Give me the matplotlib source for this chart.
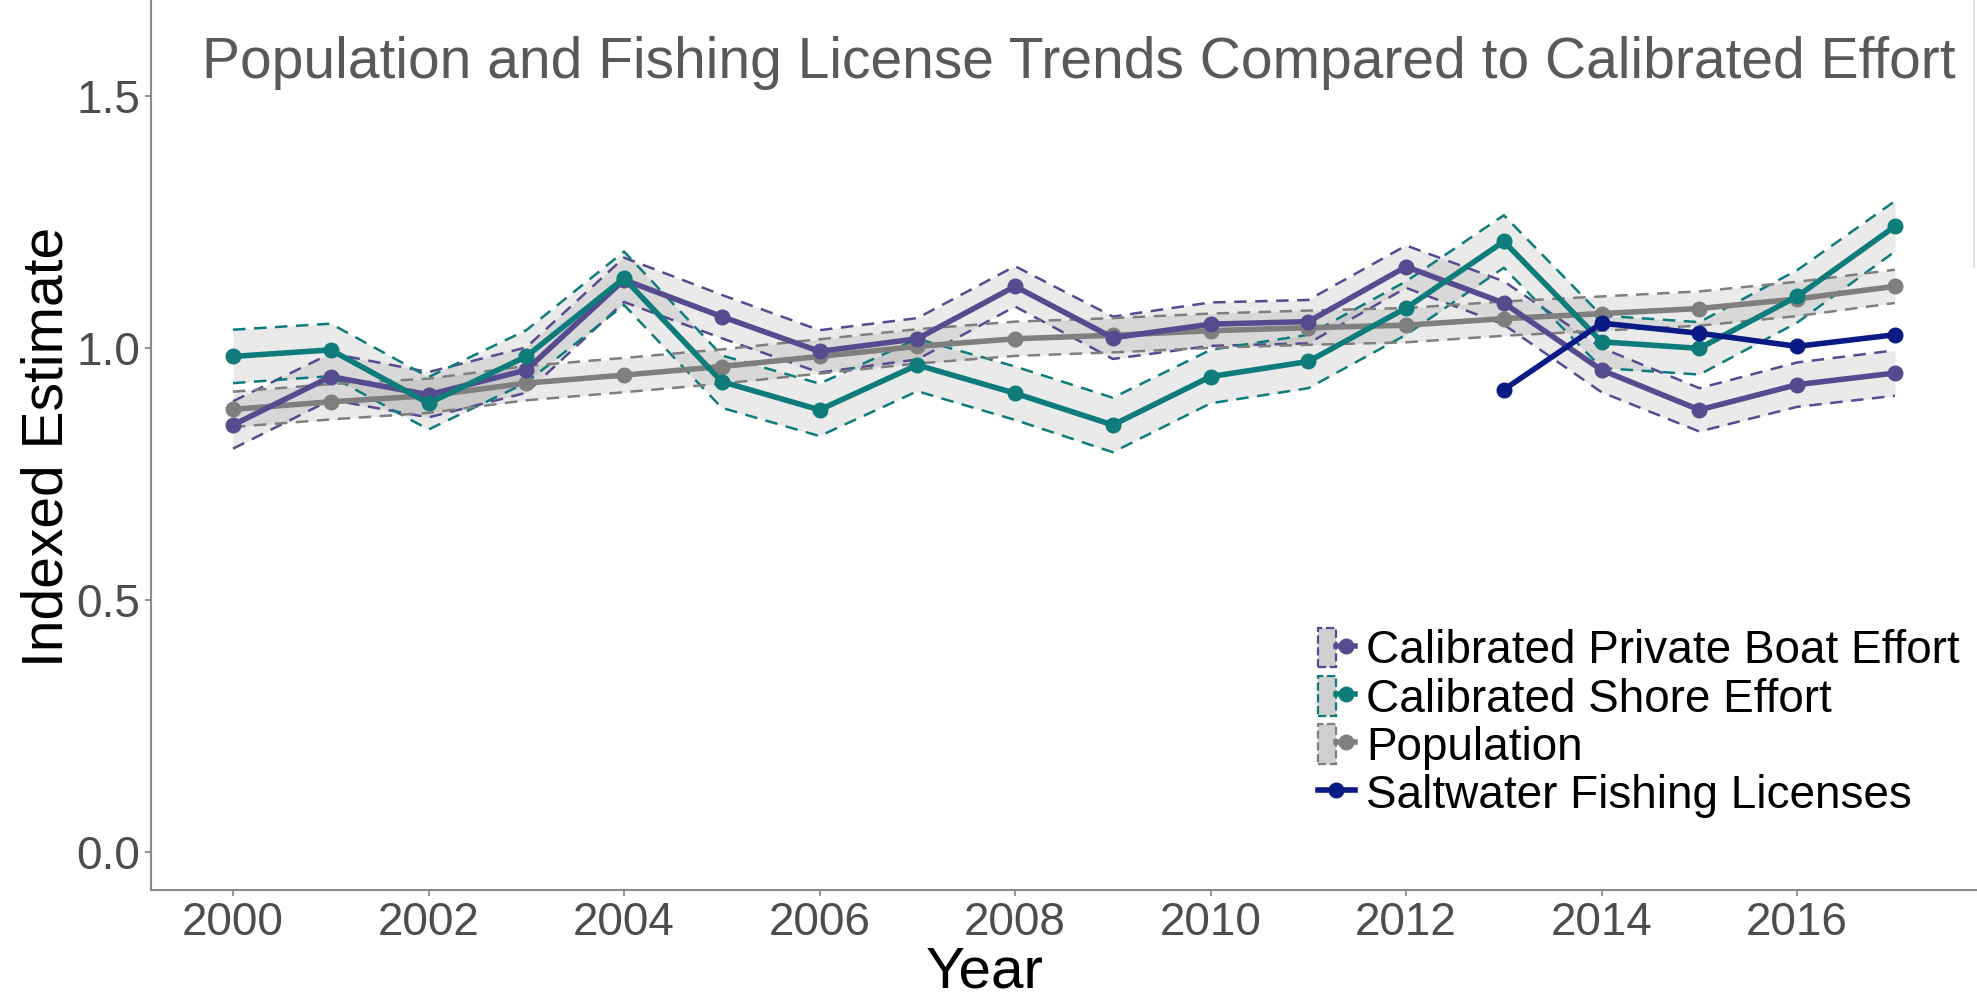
import matplotlib
matplotlib.use("Agg")
import matplotlib.pyplot as plt
from matplotlib.patches import Patch
from matplotlib.lines import Line2D
from matplotlib.legend_handler import HandlerTuple

# ---------------- data ----------------
years = [2000, 2001, 2002, 2003, 2004, 2005, 2006, 2007, 2008,
         2009, 2010, 2011, 2012, 2013, 2014, 2015, 2016, 2017]

boat = [0.847, 0.943, 0.907, 0.956, 1.135, 1.062, 0.993, 1.018, 1.122,
        1.020, 1.047, 1.052, 1.161, 1.089, 0.956, 0.877, 0.927, 0.950]
boat_ci = [0.047, 0.046, 0.045, 0.045, 0.044, 0.043, 0.042, 0.041, 0.040,
           0.042, 0.043, 0.043, 0.042, 0.043, 0.044, 0.043, 0.044, 0.045]

shore = [0.983, 0.996, 0.890, 0.983, 1.138, 0.933, 0.877, 0.966, 0.910,
         0.847, 0.943, 0.973, 1.079, 1.211, 1.012, 0.999, 1.102, 1.241]
shore_ci = [0.053, 0.052, 0.052, 0.052, 0.053, 0.052, 0.052, 0.052, 0.053,
            0.054, 0.053, 0.053, 0.053, 0.052, 0.052, 0.052, 0.052, 0.050]

pop = [0.878, 0.893, 0.905, 0.930, 0.946, 0.963, 0.983, 1.003, 1.018,
       1.025, 1.034, 1.040, 1.045, 1.058, 1.068, 1.078, 1.097, 1.122]
pop_ci = [0.035, 0.035, 0.034, 0.034, 0.034, 0.034, 0.034, 0.034, 0.034,
          0.034, 0.034, 0.034, 0.034, 0.034, 0.034, 0.034, 0.034, 0.033]

lic_years = [2013, 2014, 2015, 2016, 2017]
lic = [0.917, 1.049, 1.029, 1.003, 1.026]

names = ["Calibrated Private Boat Effort", "Calibrated Shore Effort",
         "Population", "Saltwater Fishing Licenses"]
colors = ["#574B90", "#0E7C7B", "#7F7F7F", "#0A1A85"]

xticks = [2000, 2002, 2004, 2006, 2008, 2010, 2012, 2014, 2016]
yticks = [0.0, 0.5, 1.0, 1.5]
ytick_labels = ["0.0", "0.5", "1.0", "1.5"]

title = "Population and Fishing License Trends Compared to Calibrated Effort"
xlabel = "Year"
ylabel = "Indexed Estimate"

# ---------------- figure ----------------
plt.rcParams['font.family'] = ['Liberation Sans', 'DejaVu Sans']
W, H = 1977, 1002
fig = plt.figure(figsize=(W / 100, H / 100), dpi=100)
fig.patch.set_facecolor("white")
ax = fig.add_axes([151 / W, 112 / H, 1 - 151 / W, 890 / H])

LW = 4.0
MS = 10.5
dash = (0, (5.0, 3.4))
band_sets = [(boat, boat_ci, colors[0]), (shore, shore_ci, colors[1]),
             (pop, pop_ci, colors[2])]
for vals, ci, c in band_sets:
    lo = [v - e for v, e in zip(vals, ci)]
    hi = [v + e for v, e in zip(vals, ci)]
    ax.fill_between(years, lo, hi, color="#7F7F7F", alpha=0.16, lw=0, zorder=1)
for vals, ci, c in band_sets:
    lo = [v - e for v, e in zip(vals, ci)]
    hi = [v + e for v, e in zip(vals, ci)]
    ax.plot(years, lo, color=c, lw=1.8, ls=dash, zorder=2)
    ax.plot(years, hi, color=c, lw=1.8, ls=dash, zorder=2)

ax.plot(years, pop, color=colors[2], lw=LW, marker="o", ms=MS, zorder=3)
ax.plot(years, boat, color=colors[0], lw=LW, marker="o", ms=MS, zorder=4)
ax.plot(years, shore, color=colors[1], lw=LW, marker="o", ms=MS, zorder=5)
ax.plot(lic_years, lic, color=colors[3], lw=LW, marker="o", ms=MS, zorder=6)

ax.set_xlim(1999.161, 2017.84)
ax.set_ylim(-0.0754, 1.690)
ax.set_xticks(xticks)
ax.set_xticklabels([str(x) for x in xticks])
ax.set_yticks(yticks)
ax.set_yticklabels(ytick_labels)
for s in ["top", "right"]:
    ax.spines[s].set_visible(False)
for s in ["left", "bottom"]:
    ax.spines[s].set_color("#8A8A8A")
    ax.spines[s].set_linewidth(1.5)
ax.tick_params(axis="both", length=4, width=1.3, color="#8A8A8A",
               labelsize=33, labelcolor="#4D4D4D", pad=4)
ax.set_facecolor("white")

fig.text(202 / W, 1 - 78 / H, title, fontsize=41, color="#595959",
         ha="left", va="baseline")
fig.text(48 / W, 1 - 447 / H, ylabel, fontsize=41, color="black",
         rotation=90, ha="center", va="center")
fig.text(985 / W, 2 / H, xlabel, fontsize=42, color="black",
         ha="center", va="bottom")

# faint box edge at the right
fig.add_artist(Line2D([1974 / W, 1974 / W], [1 - 267 / H, 1.0],
                      transform=fig.transFigure, color="#E3E3E3", lw=1.5))

# ---------------- legend ----------------
handles = []
for i in range(3):
    p = Patch(facecolor="#CFCFCF", edgecolor=colors[i], linestyle="--", lw=1.6)
    l = Line2D([0], [0], color=colors[i], lw=LW, marker="o", ms=MS)
    handles.append((p, l))
handles.append(Line2D([0], [0], color=colors[3], lw=LW, marker="o", ms=MS))

leg = fig.legend(handles, names, loc="center left",
                 bbox_to_anchor=(1318 / W, 1 - 723 / H),
                 frameon=False, fontsize=33, handlelength=0.8,
                 handleheight=0.95, handletextpad=0.25, labelspacing=0.06,
                 borderpad=0, borderaxespad=0,
                 handler_map={tuple: HandlerTuple(ndivide=None)})
for t in leg.get_texts():
    t.set_color("black")

fig.savefig("out.png", dpi=100, facecolor="white")
